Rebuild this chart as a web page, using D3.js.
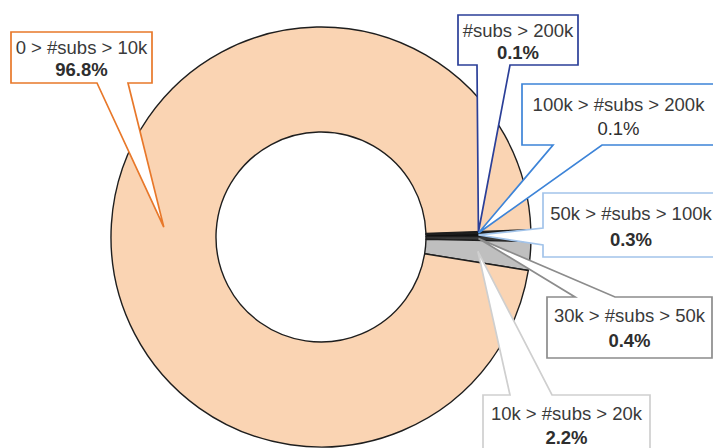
<!DOCTYPE html>
<html>
<head>
<meta charset="utf-8">
<script src="https://cdn.jsdelivr.net/npm/d3@7"></script>
<style>
  html, body { margin: 0; padding: 0; background: #fff; }
  svg { display: block; }
</style>
</head>
<body>
<svg id="chart" width="713" height="448"></svg>
<script>
// Subscriber-count buckets, in drawing order (clockwise from just above 3 o'clock)
const categories = [
  "#subs > 200k",
  "100k > #subs > 200k",
  "50k > #subs > 100k",
  "30k > #subs > 50k",
  "10k > #subs > 20k",
  "0 > #subs > 10k"
];
// Share of channels in each bucket, percent
const shares = [0.1, 0.1, 0.3, 0.4, 2.2, 96.8];

// Slice fills and callout outline colours
const sliceColors = ["#0d0d0d", "#262626", "#111111", "#3a3a3a", "#bfbfbf", "#fad4b3"];
const calloutColors = ["#2b3f98", "#3d84d8", "#a3c4ea", "#8c8c8c", "#cfcfcf", "#e8782a"];
// Whether the percentage line is bold
const boldPct = [true, false, true, true, true, true];

// Callout boxes: rectangle, side the pointer leaves from, pointer base, first text line centre
const callouts = [
  { x: 458, y: 15,  w: 120, h: 50, side: "bottom", p1: 477, p2: 510, ty: 30,  gap: 22 },
  { x: 522, y: 84,  w: 193, h: 61, side: "bottom", p1: 553, p2: 602, ty: 104, gap: 24 },
  { x: 543, y: 193, w: 176, h: 64, side: "left",   p1: 228, p2: 245, ty: 213, gap: 26 },
  { x: 547, y: 297, w: 165, h: 61, side: "top",    p1: 575, p2: 615, ty: 315, gap: 25 },
  { x: 483, y: 395, w: 167, h: 70, side: "top",    p1: 510, p2: 552, ty: 413, gap: 24 },
  { x: 11,  y: 32,  w: 141, h: 51, side: "bottom", p1: 97,  p2: 128, ty: 47,  gap: 22 }
];

const svg = d3.select("#chart");
const cx = 321, cy = 237;
const outerR = 210, innerR = 105;
const start = 88 * Math.PI / 180;

const pie = d3.pie().sort(null).value(d => d)
  .startAngle(start).endAngle(start + 2 * Math.PI);
const arcs = pie(shares);

const arc = d3.arc().innerRadius(innerR).outerRadius(outerR);

const g = svg.append("g").attr("transform", `translate(${cx},${cy})`);
g.selectAll("path.slice")
  .data(arcs)
  .join("path")
  .attr("class", "slice")
  .attr("d", arc)
  .attr("fill", (d, i) => sliceColors[i])
  .attr("stroke", "#1e1e1e")
  .attr("stroke-width", 1.4)
  .attr("stroke-linejoin", "round");

// Callout outline: rectangle with a wedge pointer folded into one side
function calloutPath(b, tip) {
  const x0 = b.x, y0 = b.y, x1 = b.x + b.w, y1 = b.y + b.h;
  let pts;
  if (b.side === "bottom") {
    pts = [[x0, y0], [x1, y0], [x1, y1], [b.p2, y1], tip, [b.p1, y1], [x0, y1]];
  } else if (b.side === "top") {
    pts = [[x0, y0], [b.p1, y0], tip, [b.p2, y0], [x1, y0], [x1, y1], [x0, y1]];
  } else {
    pts = [[x0, y0], [x1, y0], [x1, y1], [x0, y1], [x0, b.p2], tip, [x0, b.p1]];
  }
  return d3.line()(pts) + "Z";
}

const fmt = d3.format(".1f");
const fontSize = 18.5;

const labels = svg.append("g")
  .attr("font-family", "'Liberation Sans', Arial, sans-serif")
  .attr("font-size", fontSize)
  .attr("text-anchor", "middle");

arcs.forEach((a, i) => {
  const b = callouts[i];
  const c = arc.centroid(a);
  const tip = [cx + c[0], cy + c[1]];
  labels.append("path")
    .attr("d", calloutPath(b, tip))
    .attr("fill", "#fff")
    .attr("stroke", calloutColors[i])
    .attr("stroke-width", 1.7)
    .attr("stroke-linejoin", "miter");
  const tx = b.x + b.w / 2;
  labels.append("text")
    .attr("x", tx)
    .attr("y", b.ty + fontSize * 0.36)
    .attr("fill", "#3a3a3a")
    .text(categories[i]);
  labels.append("text")
    .attr("x", tx)
    .attr("y", b.ty + b.gap + fontSize * 0.36)
    .attr("fill", "#2e2e2e")
    .attr("font-weight", boldPct[i] ? "bold" : "normal")
    .text(fmt(a.data) + "%");
});
</script>
</body>
</html>
